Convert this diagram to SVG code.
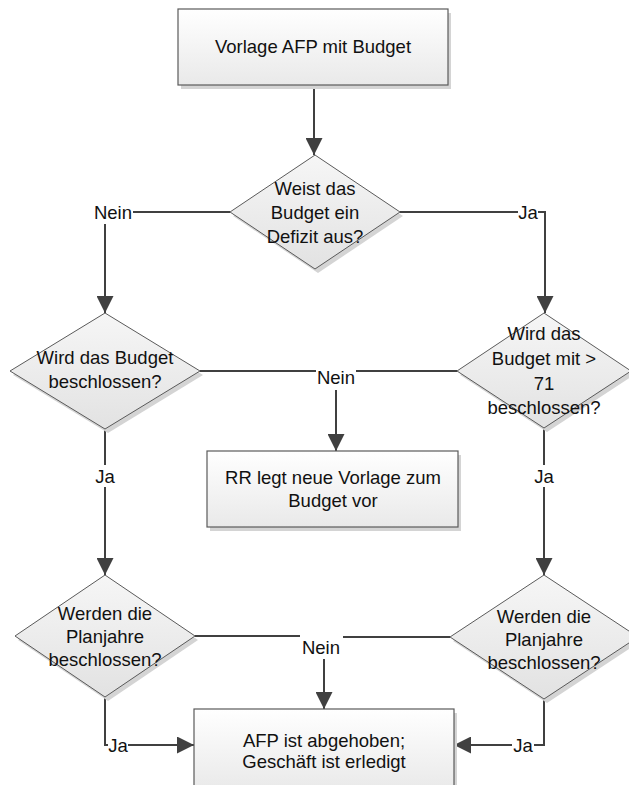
<svg xmlns="http://www.w3.org/2000/svg" width="629" height="785" viewBox="0 0 629 785">
<defs>
<linearGradient id="gBox" x1="0" y1="0" x2="0" y2="1">
<stop offset="0" stop-color="#ffffff"/>
<stop offset="1" stop-color="#e9e9e9"/>
</linearGradient>
<linearGradient id="gDia" x1="0" y1="0" x2="0" y2="1">
<stop offset="0" stop-color="#f6f6f6"/>
<stop offset="1" stop-color="#e2e2e2"/>
</linearGradient>
<marker id="arr" markerWidth="17" markerHeight="17" refX="17" refY="8.5" orient="auto" markerUnits="userSpaceOnUse">
<path d="M0,0 L17,8.5 L0,17 z" fill="#404040"/>
</marker>
</defs>
<style>
.box{fill:url(#gBox);stroke:#5a5a5a;stroke-width:1.2}
.dia{fill:url(#gDia);stroke:#5a5a5a;stroke-width:1}
.sh{fill:#d4d4d4}
.t{font-family:"Liberation Sans",Arial,sans-serif;font-size:18.5px;fill:#111111;text-anchor:middle}
.c{fill:none;stroke:#404040;stroke-width:2}
.ca{fill:none;stroke:#404040;stroke-width:2;marker-end:url(#arr)}
</style>
<rect width="629" height="785" fill="#ffffff"/>

<g id="connectors">
<path class="ca" d="M314,85 V155"/>
<path class="c" d="M230,212 H133"/>
<path class="ca" d="M105,224 V313"/>
<path class="c" d="M400,212 H518"/>
<path class="ca" d="M538,212 H545 V313"/>
<path class="c" d="M200,371 H316"/>
<path class="c" d="M356,371 H457"/>
<path class="ca" d="M336,390 V451"/>
<path class="c" d="M105,429 V465"/>
<path class="ca" d="M105,487 V575"/>
<path class="c" d="M544,428 V465"/>
<path class="ca" d="M544,487 V575"/>
<path class="c" d="M195,636 H300"/>
<path class="c" d="M343,637 H450"/>
<path class="ca" d="M324,659 V709"/>
<path class="c" d="M105,697 V745 H108"/>
<path class="ca" d="M128,745 H194"/>
<path class="c" d="M544,699 V745 H534"/>
<path class="ca" d="M512,745 H454"/>
<text class="t" x="113" y="219">Nein</text>
<text class="t" x="528" y="219">Ja</text>
<text class="t" x="336" y="384">Nein</text>
<text class="t" x="105" y="483">Ja</text>
<text class="t" x="544" y="483">Ja</text>
<text class="t" x="321" y="654">Nein</text>
<text class="t" x="118" y="752">Ja</text>
<text class="t" x="523" y="752">Ja</text>
</g>

<g id="start">
<rect class="sh" x="181" y="13" width="270" height="76"/>
<rect class="box" x="178" y="9" width="270" height="76"/>
<text class="t" x="313" y="53">Vorlage AFP mit Budget</text>
</g>

<g id="d1">
<polygon class="sh" points="318,159 403,216 318,273 233,216"/>
<polygon class="dia" points="315,155 400,212 315,269 230,212"/>
<text class="t" x="315" y="195">Weist das</text>
<text class="t" x="315" y="219">Budget ein</text>
<text class="t" x="315" y="243">Defizit aus?</text>
</g>

<g id="d2">
<polygon class="sh" points="108,317 203,375 108,433 13,375"/>
<polygon class="dia" points="105,313 200,371 105,429 10,371"/>
<text class="t" x="105" y="364">Wird das Budget</text>
<text class="t" x="105" y="388">beschlossen?</text>
</g>

<g id="d3">
<polygon class="sh" points="547,317 634,375 547,432 460,375"/>
<polygon class="dia" points="544,313 631,371 544,428 457,371"/>
<text class="t" x="544" y="340">Wird das</text>
<text class="t" x="544" y="365">Budget mit &gt;</text>
<text class="t" x="544" y="390">71</text>
<text class="t" x="544" y="414">beschlossen?</text>
</g>

<g id="rr">
<rect class="sh" x="210" y="455" width="251" height="76"/>
<rect class="box" x="207" y="451" width="251" height="76"/>
<text class="t" x="333" y="484">RR legt neue Vorlage zum</text>
<text class="t" x="333" y="507">Budget vor</text>
</g>

<g id="d4">
<polygon class="sh" points="108,579 198,640 108,701 18,640"/>
<polygon class="dia" points="105,575 195,636 105,697 15,636"/>
<text class="t" x="105" y="620">Werden die</text>
<text class="t" x="105" y="643">Planjahre</text>
<text class="t" x="105" y="666">beschlossen?</text>
</g>

<g id="d5">
<polygon class="sh" points="547,579 641,641 547,703 453,641"/>
<polygon class="dia" points="544,575 638,637 544,699 450,637"/>
<text class="t" x="544" y="623">Werden die</text>
<text class="t" x="544" y="646">Planjahre</text>
<text class="t" x="544" y="669">beschlossen?</text>
</g>

<g id="end">
<rect class="sh" x="197" y="713" width="260" height="82"/>
<rect class="box" x="194" y="709" width="260" height="82"/>
<text class="t" x="324" y="747">AFP ist abgehoben;</text>
<text class="t" x="324" y="768">Geschäft ist erledigt</text>
</g>
</svg>
